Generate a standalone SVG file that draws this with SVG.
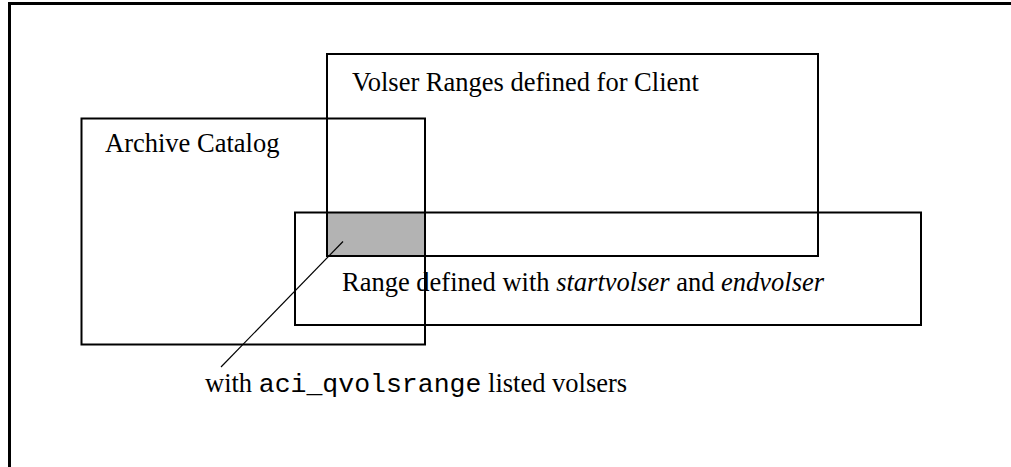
<svg xmlns="http://www.w3.org/2000/svg" width="1011" height="467" viewBox="0 0 1011 467">
  <style>
    .box { fill: none; stroke: #000; stroke-width: 2; }
    .frame { fill: none; stroke: #000; stroke-width: 3; }
    .lbl { font-family: "Liberation Serif", "Times New Roman", serif; font-size: 26.5px; fill: #000; }
    .mono { font-family: "Liberation Mono", "Courier New", monospace; }
  </style>
  <rect width="1011" height="467" fill="#fff"/>
  <!-- outer frame -->
  <path class="frame" d="M9.5,467 V3.5 H1011"/>
  <!-- overlap of the three regions -->
  <rect id="overlap" x="327" y="213" width="98" height="43" fill="#b3b3b3"/>
  <g id="client-ranges">
    <rect class="box" x="327" y="54" width="491" height="202"/>
    <text class="lbl" x="352" y="91">Volser Ranges defined for Client</text>
  </g>
  <g id="archive-catalog">
    <rect class="box" x="81.5" y="118.5" width="343.5" height="226"/>
    <text class="lbl" x="105" y="152">Archive Catalog</text>
  </g>
  <g id="defined-range">
    <rect class="box" x="295" y="212.5" width="626" height="112.5"/>
    <text class="lbl" x="342" y="291">Range defined with <tspan font-style="italic">startvolser</tspan> and <tspan font-style="italic">endvolser</tspan></text>
  </g>
  <g id="connectors">
    <line x1="343" y1="241.5" x2="221" y2="367" stroke="#000" stroke-width="1.2"/>
  </g>
  <g id="note">
    <text class="lbl" x="205" y="392">with <tspan class="mono">aci_qvolsrange</tspan> listed volsers</text>
  </g>
</svg>
